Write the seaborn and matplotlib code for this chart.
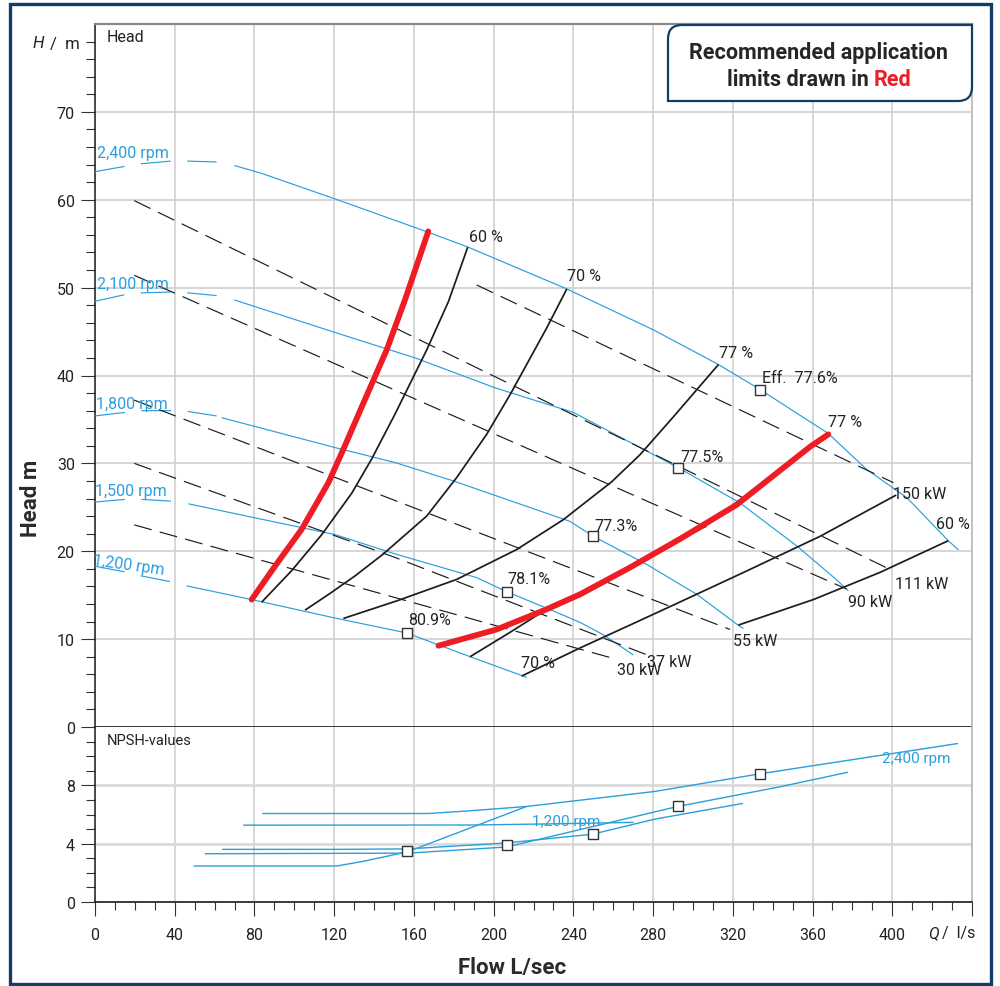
import numpy as np
import matplotlib
matplotlib.use("Agg")
import matplotlib.pyplot as plt
import seaborn as sns
from matplotlib.ticker import FixedLocator
from matplotlib.patches import Rectangle, PathPatch
from matplotlib.path import Path

# ---------------- data ----------------
x_major = [0, 40, 80, 120, 160, 200, 240, 280, 320, 360, 400, 440]
x_labels = ["0", "40", "80", "120", "160", "200", "240", "280", "320", "360", "400", ""]
head_major = [0, 10, 20, 30, 40, 50, 60, 70]
npsh_major = [0, 4, 8]

# pump curves (Q l/s, H m) per speed
q_2400 = [0, 15, 23.4, 38.1, 46.5, 61, 69.9, 83.6, 120.4, 167.2, 187.3, 236.7, 280.1, 312.8, 333.7, 367.9, 387.2, 407.3, 428.1, 433.2]
h_2400 = [63.2, 63.8, 64.1, 64.4, 64.4, 64.3, 63.9, 63.0, 60.1, 56.3, 54.6, 49.85, 45.2, 41.25, 38.4, 33.4, 29.3, 26.1, 21.2, 20.15]
q_2100 = [0, 15, 23.4, 38.1, 46.8, 61, 69.9, 120.4, 160.6, 200.7, 240, 292.7, 323.6, 352.1, 371.3, 378]
h_2100 = [48.45, 49.2, 49.4, 49.5, 49.4, 49.1, 48.6, 44.9, 42.0, 38.6, 35.8, 29.5, 25.5, 20.6, 16.9, 15.5]
q_1800 = [0, 15, 23.4, 38.1, 46.8, 61, 63.5, 120.4, 150.5, 179.8, 238.3, 250, 276.8, 301.9, 322, 325.3]
h_1800 = [35.4, 35.8, 36.0, 36.0, 35.9, 35.4, 35.2, 31.8, 30.1, 28.0, 23.4, 21.7, 18.5, 15.1, 11.7, 11.2]
q_1500 = [0, 15, 23.4, 38.1, 46.8, 80.3, 120.4, 150.5, 191.5, 206.5, 230, 243.4, 255, 270.1]
h_1500 = [25.6, 25.9, 25.9, 25.7, 25.4, 23.8, 21.9, 19.7, 17.0, 15.4, 13.2, 11.9, 10.5, 8.2]
q_1200 = [0, 15, 23.1, 37.6, 46, 78.6, 120.4, 156.4, 188.2, 216.6]
h_1200 = [18.3, 17.65, 17.2, 16.55, 16.06, 14.5, 12.4, 10.7, 8.0, 5.65]
rpm_names = ["2,400 rpm", "2,100 rpm", "1,800 rpm", "1,500 rpm", "1,200 rpm"]
dash_end = [61, 61, 61, 38.1, 37.6]
solid_start = [69.9, 69.9, 63.5, 46.8, 46]

# iso-efficiency curves
q_e60a = [83.6, 98.7, 113.8, 128.8, 138.8, 150.5, 166.4, 177.3, 187]
h_e60a = [14.2, 17.8, 21.9, 26.6, 30.5, 35.6, 42.9, 48.4, 54.6]
q_e70a = [105.4, 117.9, 130.5, 144.7, 166.4, 181.5, 196.5, 208.2, 226.6, 236.7]
h_e70a = [13.3, 15.2, 17.2, 19.7, 24.0, 28.4, 33.3, 37.8, 45.4, 49.85]
q_e77a = [124.6, 151.4, 181.5, 211.6, 235, 259.2, 273.5, 290.2, 312.8]
h_e77a = [12.35, 14.35, 16.8, 20.2, 23.6, 27.9, 31.0, 35.3, 41.25]
q_e77b = [188.2, 207, 226.6, 268.4, 305.2, 343.7, 367.9]
h_e77b = [8.0, 10.6, 13.4, 18.15, 22.7, 29.3, 33.3]
q_e70b = [214.1, 243.4, 268.4, 288.5, 323.6, 363.8, 402]
h_e70b = [5.8, 9.0, 11.6, 13.7, 17.4, 21.7, 26.4]
q_e60b = [322.8, 360.4, 393.9, 428.1]
h_e60b = [11.6, 14.5, 17.6, 21.2]

# recommended limits (red)
q_red_a = [78.6, 90.3, 103.7, 117.1, 124.6, 135.5, 146.4, 155.5, 167.2]
h_red_a = [14.5, 18.3, 22.5, 27.8, 31.6, 37.3, 42.95, 48.6, 56.4]
q_red_b = [172.3, 201.5, 226.6, 243.4, 268.4, 293.5, 322, 343.7, 358.8, 367.9]
h_red_b = [9.25, 11.1, 13.4, 15.1, 18.15, 21.4, 25.3, 29.2, 31.9, 33.3]

# power lines (dashed)
q_p150 = [191.5, 400.6]
h_p150 = [50.3, 27.8]
q_p111 = [19.7, 400]
h_p111 = [59.9, 17.8]
q_p90 = [19.7, 377.1]
h_p90 = [51.4, 15.7]
q_p55 = [19.7, 318.6]
h_p55 = [37.2, 11.1]
q_p37 = [19.7, 150.5, 277]
h_p37 = [30.0, 19.3, 8.2]
q_p30 = [19.7, 261.7]
h_p30 = [23.0, 7.7]

# best efficiency points
bep_q = [156.4, 206.5, 250.0, 292.7, 333.7]
bep_h = [10.7, 15.4, 21.7, 29.5, 38.4]
bep_labels = ["80.9%", "78.1%", "77.3%", "77.5%", "Eff.  77.6%"]
bep_npsh = [3.5, 3.9, 4.65, 6.6, 8.78]

# NPSH curves
q_n2400 = [83.9, 167.5, 188.6, 216.5, 280.8, 333.6, 433]
n_n2400 = [6.07, 6.07, 6.26, 6.55, 7.58, 8.79, 10.87]
q_n2100 = [55.1, 157, 206.4, 292.3, 343.7, 377.8]
n_n2100 = [3.31, 3.35, 3.77, 6.55, 7.9, 8.9]
q_n1800 = [63.8, 120, 156.5, 206.4, 249.6, 280.8, 325]
n_n1800 = [3.61, 3.61, 3.64, 4.05, 4.65, 5.68, 6.76]
q_n1500 = [74.3, 190, 230, 270.2]
n_n1500 = [5.27, 5.28, 5.36, 5.46]
q_n1200 = [49.4, 121.4, 135, 157, 216.5]
n_n1200 = [2.47, 2.47, 2.8, 3.45, 6.55]

# ---------------- style ----------------
sns.set_theme(style="white")
plt.rcParams["font.family"] = ["Roboto", "DejaVu Sans"]
plt.rcParams["lines.scale_dashes"] = False
plt.rcParams["lines.solid_capstyle"] = "butt"
plt.rcParams["lines.solid_joinstyle"] = "round"

BLUE = "#2a9fdb"
BLACK = "#1c1c1c"
RED = "#ee1c24"
TXT = "#222222"
NAVY = "#123d66"
GRID = "#d0d0d0"

W, H = 1000, 987
fig = plt.figure(figsize=(10, 9.87), dpi=100)
fig.patch.set_facecolor("white")


def fx(px):
    return px / W


def fy(py):
    return 1 - py / H


ax = fig.add_axes([fx(95), fy(728), (972 - 95) / W, (728 - 25) / H])
axn = fig.add_axes([fx(95), fy(903), (972 - 95) / W, (903 - 728) / H], sharex=ax)


def line(a, q, h, color, lw, ls="-", z=3):
    sns.lineplot(x=np.asarray(q, float), y=np.asarray(h, float), ax=a, color=color,
                 linewidth=lw, linestyle=ls, sort=False, estimator=None,
                 errorbar=None, zorder=z)


def label(a, text, xy, off_px, color=TXT, size=11.5, ha="left", va="center", rot=0):
    a.annotate(text, xy=xy, xytext=(off_px[0] * 0.72, -off_px[1] * 0.72),
               textcoords="offset points", ha=ha, va=va, fontsize=size,
               color=color, rotation=rot, rotation_mode="anchor", zorder=7)


# ---------------- head panel ----------------
rpm_q = [q_2400, q_2100, q_1800, q_1500, q_1200]
rpm_h = [h_2400, h_2100, h_1800, h_1500, h_1200]
rpm_off = [(2, -19), (2, -17.5), (1, -12), (0, -12), (-2, -7)]
rpm_rot = [0, 0, 0, 0, -8]
for q, h, de, ss, name, off, rot in zip(rpm_q, rpm_h, dash_end, solid_start, rpm_names, rpm_off, rpm_rot):
    q = np.asarray(q, float)
    h = np.asarray(h, float)
    m1 = q <= de
    m2 = q >= ss
    line(ax, q[m1], h[m1], BLUE, 0.85, ls=(0, (21.6, 11.9)))
    line(ax, q[m2], h[m2], BLUE, 0.85)
    label(ax, name, (q[0], h[0]), off, color=BLUE, size=11.5, rot=rot)

dash_style = (0, (13, 6))
for q, h in [(q_p150, h_p150), (q_p111, h_p111), (q_p90, h_p90),
             (q_p55, h_p55), (q_p37, h_p37), (q_p30, h_p30)]:
    line(ax, q, h, BLACK, 0.85, ls=dash_style, z=3)

for q, h in [(q_e60a, h_e60a), (q_e70a, h_e70a), (q_e77a, h_e77a),
             (q_e77b, h_e77b), (q_e70b, h_e70b), (q_e60b, h_e60b)]:
    line(ax, q, h, BLACK, 1.25, z=4)

line(ax, q_red_a, h_red_a, RED, 4.2, z=5)
line(ax, q_red_b, h_red_b, RED, 4.2, z=5)
for l in ax.lines[-2:]:
    l.set_solid_capstyle("round")

sns.scatterplot(x=bep_q, y=bep_h, ax=ax, marker="s", s=48, facecolor="white",
                edgecolor="#333333", linewidth=1.0, zorder=6)

# labels on curves
label(ax, "60 %", (q_e60a[-1], h_e60a[-1]), (1, -11))
label(ax, "70 %", (q_e70a[-1], h_e70a[-1]), (0, -13))
label(ax, "77 %", (q_e77a[-1], h_e77a[-1]), (1, -12))
label(ax, "77 %", (q_red_b[-1], h_red_b[-1]), (0, -13))
bep_off = [(1, -13), (1, -13), (1, -11), (2, -11), (2, -12)]
for q, h, t, off in zip(bep_q, bep_h, bep_labels, bep_off):
    label(ax, t, (q, h), off)
label(ax, "70 %", (q_e70b[0], h_e70b[0]), (-1, -14))
label(ax, "60 %", (q_e60b[-1], h_e60b[-1]), (-12, -17))
label(ax, "30 kW", (q_p30[-1], h_p30[-1]), (0, 10))
label(ax, "37 kW", (q_p37[-1], h_p37[-1]), (0, 7))
label(ax, "55 kW", (q_p55[-1], h_p55[-1]), (3, 11))
label(ax, "90 kW", (q_p90[-1], h_p90[-1]), (1, 12))
label(ax, "111 kW", (q_p111[-1], h_p111[-1]), (3, 13))
label(ax, "150 kW", (q_p150[-1], h_p150[-1]), (0, 11))

ax.set_xlim(0, 440)
ax.set_ylim(0, 80)
ax.xaxis.set_major_locator(FixedLocator(x_major))
ax.yaxis.set_major_locator(FixedLocator(head_major))
ax.yaxis.set_minor_locator(FixedLocator([v for v in range(2, 80, 2) if v % 10]))
ax.set_yticklabels([str(v) for v in head_major])
ax.tick_params(axis="x", which="both", length=0, labelbottom=False)
ax.tick_params(axis="y", which="major", left=True, length=10, width=0.8, color="#333333",
               direction="out", labelsize=11.5, pad=4.5, labelcolor=TXT)
ax.tick_params(axis="y", which="minor", left=True, length=6.5, width=0.8, color="#333333",
               direction="out")
ax.grid(True, which="major", color=GRID, linewidth=1.2)
ax.set_axisbelow(True)
ax.set_xlabel("")
ax.set_ylabel("")
ax.spines["left"].set_color(BLACK)
ax.spines["left"].set_linewidth(1.1)
ax.spines["bottom"].set_color(BLACK)
ax.spines["bottom"].set_linewidth(1.2)
ax.spines["top"].set_color("#8a8a8a")
ax.spines["top"].set_linewidth(1.6)
ax.spines["right"].set_color("#bdbdbd")
ax.spines["right"].set_linewidth(1.3)
fig.text(fx(107), fy(37), "Head", ha="left", va="center", fontsize=11.5, color=TXT)

# ---------------- NPSH panel ----------------
for q, n in [(q_n2400, n_n2400), (q_n2100, n_n2100), (q_n1800, n_n1800),
             (q_n1500, n_n1500), (q_n1200, n_n1200)]:
    line(axn, q, n, BLUE, 1.0)
sns.scatterplot(x=bep_q, y=bep_npsh, ax=axn, marker="s", s=48, facecolor="white",
                edgecolor="#333333", linewidth=1.0, zorder=6)
axn.text(395, 9.9, "2,400 rpm", ha="left", va="center", fontsize=11, color=BLUE, zorder=7)
axn.text(219, 5.55, "1,200 rpm", ha="left", va="center", fontsize=11, color=BLUE, zorder=7)
fig.text(fx(107), fy(741), "NPSH-values", ha="left", va="center", fontsize=10.5, color=TXT)

axn.set_xlim(0, 440)
axn.set_ylim(0, 12)
axn.xaxis.set_major_locator(FixedLocator(x_major))
axn.xaxis.set_minor_locator(FixedLocator([v for v in range(10, 440, 10) if v % 40]))
axn.set_xticklabels(x_labels)
axn.yaxis.set_major_locator(FixedLocator(npsh_major))
axn.yaxis.set_minor_locator(FixedLocator([1, 2, 3, 5, 6, 7, 9, 10, 11]))
axn.set_yticklabels([str(v) for v in npsh_major])
axn.tick_params(axis="x", which="major", bottom=True, length=10, width=0.8, color="#333333",
                direction="out", labelsize=11.5, pad=8, labelcolor=TXT)
axn.tick_params(axis="x", which="minor", bottom=True, length=5.5, width=0.8, color="#333333",
                direction="out")
axn.tick_params(axis="y", which="major", left=True, length=10, width=0.8, color="#333333",
                direction="out", labelsize=11.5, pad=4.5, labelcolor=TXT)
axn.tick_params(axis="y", which="minor", left=True, length=6.5, width=0.8, color="#333333",
                direction="out")
axn.grid(True, axis="x", which="major", color=GRID, linewidth=1.2)
axn.grid(True, axis="y", which="major", color="#dadada", linewidth=2.0)
axn.set_axisbelow(True)
axn.set_xlabel("")
axn.set_ylabel("")
axn.spines["top"].set_visible(False)
axn.spines["left"].set_color(BLACK)
axn.spines["left"].set_linewidth(1.1)
axn.spines["bottom"].set_color(BLACK)
axn.spines["bottom"].set_linewidth(1.2)
axn.spines["right"].set_color("#bdbdbd")
axn.spines["right"].set_linewidth(1.3)

# ---------------- figure texts ----------------
fig.text(fx(31), fy(498), "Head m", rotation=90, ha="center", va="center",
         fontsize=16, fontweight="bold", color="#2a2a2a")
fig.text(fx(512), fy(968), "Flow L/sec", ha="center", va="center",
         fontsize=16, fontweight="bold", color="#2a2a2a")
fig.text(fx(33), fy(44), "H", ha="left", va="center", fontsize=12,
         fontstyle="italic", color=TXT)
fig.text(fx(50), fy(44), "/  m", ha="left", va="center", fontsize=12, color=TXT)
fig.text(fx(928), fy(934), "Q", ha="left", va="center", fontsize=11.5,
         fontstyle="italic", color=TXT)
fig.text(fx(942), fy(934), "/  l/s", ha="left", va="center", fontsize=11.5, color=TXT)

# outer frame
fig.add_artist(Rectangle((fx(10), fy(985)), (991 - 10) / W, (985 - 5) / H,
                         transform=fig.transFigure, fill=False, edgecolor=NAVY,
                         linewidth=2.4, zorder=10))

# note box with two rounded corners
x0, y0, x1, y1, r = 668, 26, 972, 102, 14
verts_px = [(x0, y0 + r), (x0, y0), (x0 + r, y0), (x1, y0), (x1, y1 - r),
            (x1, y1), (x1 - r, y1), (x0, y1), (x0, y0 + r)]
codes = [Path.MOVETO, Path.CURVE3, Path.CURVE3, Path.LINETO, Path.LINETO,
         Path.CURVE3, Path.CURVE3, Path.LINETO, Path.CLOSEPOLY]
verts = [(fx(a), fy(b)) for a, b in verts_px]
fig.add_artist(PathPatch(Path(verts, codes), transform=fig.transFigure,
                         facecolor="white", edgecolor=NAVY, linewidth=1.6, zorder=9))
fig.text(fx(818), fy(53), "Recommended application", ha="center", va="center",
         fontsize=15.5, fontweight="bold", color="#262626", zorder=11)
fig.text(fx(869), fy(80), "limits drawn in", ha="right", va="center",
         fontsize=15.5, fontweight="bold", color="#262626", zorder=11)
fig.text(fx(874), fy(80), "Red", ha="left", va="center",
         fontsize=15.5, fontweight="bold", color=RED, zorder=11)

fig.savefig("out.png", dpi=100, facecolor="white")
